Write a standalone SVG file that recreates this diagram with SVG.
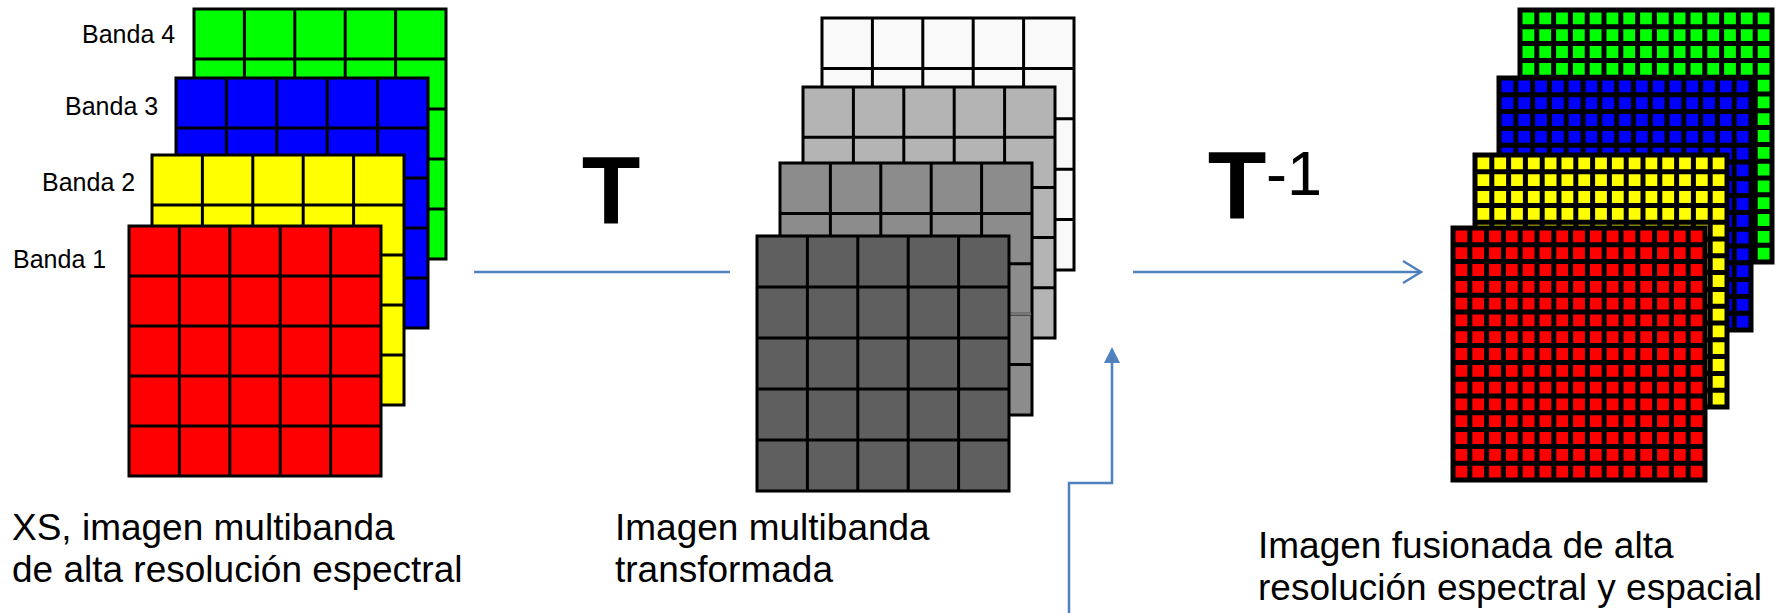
<svg xmlns="http://www.w3.org/2000/svg" xmlns:xlink="http://www.w3.org/1999/xlink" width="1775" height="613" viewBox="0 0 1775 613">
  <style>
    .band { font-family: "Liberation Sans", Arial, sans-serif; font-size: 25px; fill: #000; }
    .caption { font-family: "Liberation Sans", Arial, sans-serif; font-size: 37px; fill: #000; }
    .op { font-family: "Liberation Sans", Arial, sans-serif; font-weight: bold; font-size: 96px; fill: #000; }
    .sup { font-family: "Liberation Sans", Arial, sans-serif; font-size: 63px; fill: #000; }
    .conn { fill: none; stroke: #4F81BD; stroke-width: 2.5; }
  </style>
  <defs>
    <!-- 5x5 band raster; fill comes from the <use> -->
    <g id="coarse">
      <rect width="252" height="250" stroke="#000" stroke-width="3"/>
      <path fill="none" stroke="#000" stroke-width="3" d="M50.4 0V250M100.8 0V250M151.2 0V250M201.6 0V250M0 50H252M0 100H252M0 150H252M0 200H252"/>
    </g>
    <!-- 15x15 high-resolution raster -->
    <g id="fine">
      <rect width="252" height="252" stroke="#000" stroke-width="5"/>
      <path fill="none" stroke="#000" stroke-width="5" d="M16.8 0V252M33.6 0V252M50.4 0V252M67.2 0V252M84 0V252M100.8 0V252M117.6 0V252M134.4 0V252M151.2 0V252M168 0V252M184.8 0V252M201.6 0V252M218.4 0V252M235.2 0V252M0 16.8H252M0 33.6H252M0 50.4H252M0 67.2H252M0 84H252M0 100.8H252M0 117.6H252M0 134.4H252M0 151.2H252M0 168H252M0 184.8H252M0 201.6H252M0 218.4H252M0 235.2H252"/>
    </g>
    <marker id="open-arrow" viewBox="0 0 24 26" refX="21" refY="13" markerWidth="24" markerHeight="26" markerUnits="userSpaceOnUse" orient="auto">
      <path d="M3 2L21 13L3 24" fill="none" stroke="#4F81BD" stroke-width="2.5"/>
    </marker>
    <marker id="solid-arrow" viewBox="0 0 16 16" refX="13" refY="8" markerWidth="16" markerHeight="16" markerUnits="userSpaceOnUse" orient="auto">
      <path d="M0 0L16 8L0 16Z" fill="#4F81BD"/>
    </marker>
  </defs>

  <rect width="1775" height="613" fill="#fff"/>

  <!-- multispectral input stack -->
  <g id="stack-xs">
    <use href="#coarse" x="194" y="9" fill="#00FF00"/>
    <use href="#coarse" x="176" y="78" fill="#0000FF"/>
    <use href="#coarse" x="152" y="155" fill="#FFFF00"/>
    <use href="#coarse" x="129" y="226" fill="#FF0000"/>
  </g>

  <g id="band-labels">
    <text class="band" x="82" y="43">Banda 4</text>
    <text class="band" x="65" y="115">Banda 3</text>
    <text class="band" x="42" y="191">Banda 2</text>
    <text class="band" x="13" y="268">Banda 1</text>
  </g>

  <!-- transformed stack -->
  <g id="stack-transformed">
    <use href="#coarse" transform="translate(822 18) scale(1 1.008)" fill="#F9F9F9"/>
    <use href="#coarse" transform="translate(803 87) scale(1 1.004)" fill="#B4B4B4"/>
    <use href="#coarse" transform="translate(780 163) scale(1 1.008)" fill="#8C8C8C"/>
    <line x1="1010" y1="314" x2="1031" y2="314" stroke="#777" stroke-width="3"/>
    <use href="#coarse" transform="translate(757 236) scale(1 1.02)" fill="#5F5F5F"/>
  </g>

  <!-- fused output stack -->
  <g id="stack-fused">
    <use href="#fine" x="1520" y="10" fill="#00FF00"/>
    <use href="#fine" x="1499" y="78" fill="#0000FF"/>
    <use href="#fine" x="1475" y="155" fill="#FFFF00"/>
    <use href="#fine" x="1453" y="228" fill="#FF0000"/>
  </g>

  <g id="op-forward">
    <text class="op" x="611" y="224" text-anchor="middle">T</text>
  </g>
  <g id="op-inverse">
    <text class="op" x="1237" y="219" text-anchor="middle">T</text>
    <text class="sup" x="1266" y="195">-1</text>
  </g>

  <g id="connectors">
    <path class="conn" d="M474 272H730"/>
    <path class="conn" d="M1133 272H1421" marker-end="url(#open-arrow)"/>
    <path class="conn" d="M1069 613V483H1112V350" marker-end="url(#solid-arrow)"/>
  </g>

  <g id="caption-xs">
    <text class="caption" x="12" y="540">XS, imagen multibanda</text>
    <text class="caption" x="12" y="582">de alta resolución espectral</text>
  </g>
  <g id="caption-transformed">
    <text class="caption" x="615" y="540">Imagen multibanda</text>
    <text class="caption" x="615" y="582">transformada</text>
  </g>
  <g id="caption-fused">
    <text class="caption" x="1258" y="558">Imagen fusionada de alta</text>
    <text class="caption" x="1258" y="600">resolución espectral y espacial</text>
  </g>
</svg>
